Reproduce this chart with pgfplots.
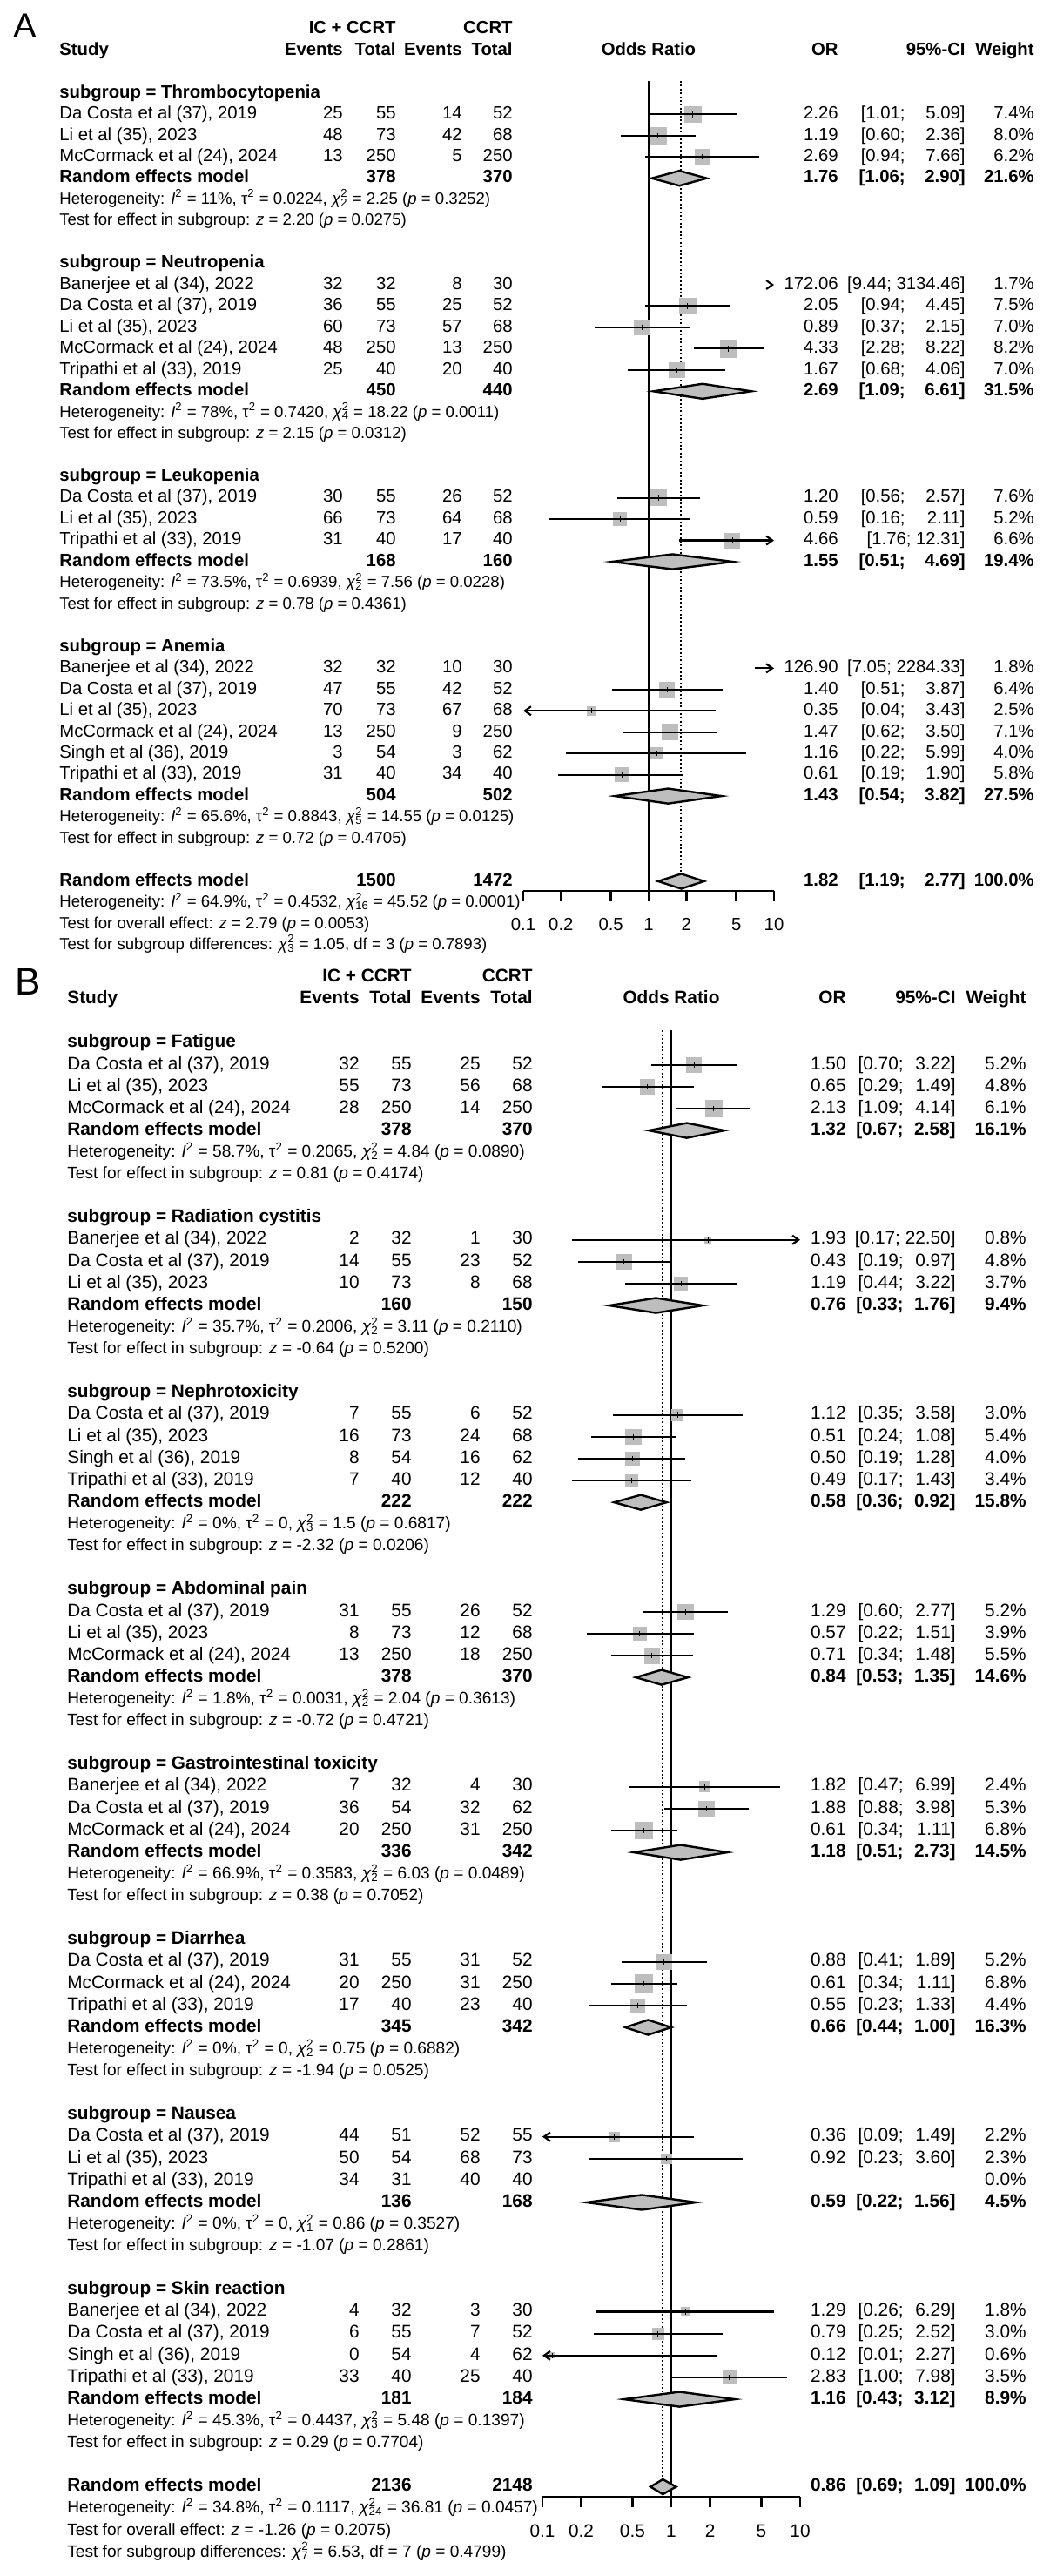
\documentclass[border=0pt]{standalone}
\usepackage{fontspec}
\setmainfont{Liberation Sans}
\usepackage{pgfplots}
\pgfplotsset{compat=1.18}
\usepackage{pgfplotstable}
\usetikzlibrary{arrows.meta}
\definecolor{boxgray}{HTML}{BEBEBE}

\newcommand\fA{\fontsize{10.15pt}{12pt}\selectfont}
\newcommand\fB{\fontsize{10.4pt}{12.5pt}\selectfont}
\newcommand\hA{\fontsize{9.3pt}{11pt}\selectfont}
\newcommand\hB{\fontsize{9.55pt}{11.5pt}\selectfont}

% text: x in reference pixels, y in rows of the forest axis
\newcommand\tL[3]{\node[anchor=mid west,inner sep=0pt,font=\fnt] at ([xshift={(#1-\xone)*0.5pt}]axis cs:1,#2) {#3};}
\newcommand\tR[3]{\node[anchor=mid east,inner sep=0pt,font=\fnt] at ([xshift={(#1-\xone)*0.5pt}]axis cs:1,#2) {#3};}
\newcommand\tC[3]{\node[anchor=mid,inner sep=0pt,font=\fnt] at ([xshift={(#1-\xone)*0.5pt}]axis cs:1,#2) {#3};}
% heterogeneity / test lines, smaller font
\newcommand\hs[2]{\node[anchor=mid west,inner sep=0pt,font=\fhet] at ([xshift={(\cN-\xone)*0.5pt}]axis cs:1,#1) {#2};}
\newcommand\st[6]{\tL{\cN}{#1}{#2}\tR{\cEa}{#1}{#3}\tR{\cTa}{#1}{#4}\tR{\cEb}{#1}{#5}\tR{\cTb}{#1}{#6}}
\newcommand\es[5]{\tR{\cOR}{#1}{#2}\tR{\cLo}{#1}{#3}\tR{\cHi}{#1}{#4}\tR{\cW}{#1}{#5}}
\newcommand\re[7]{\tL{\cN}{#1}{\textbf{Random effects model}}\tR{\cTa}{#1}{\textbf{#2}}\tR{\cTb}{#1}{\textbf{#3}}%
  \tR{\cOR}{#1}{\textbf{#4}}\tR{\cLo}{#1}{\textbf{#5}}\tR{\cHi}{#1}{\textbf{#6}}\tR{\cW}{#1}{\textbf{#7}}}
\newcommand\sg[2]{\tL{\cN}{#1}{\textbf{subgroup = #2}}}
\newcommand\hd{%
  \tR{\cTa}{-3}{\textbf{IC + CCRT}}\tR{\cTb}{-3}{\textbf{CCRT}}%
  \tL{\cN}{-2}{\textbf{Study}}\tR{\cEa}{-2}{\textbf{Events}}\tR{\cTa}{-2}{\textbf{Total}}%
  \tR{\cEb}{-2}{\textbf{Events}}\tR{\cTb}{-2}{\textbf{Total}}\tC{\xone}{-2}{\textbf{Odds Ratio}}%
  \tR{\cOR}{-2}{\textbf{OR}}\tR{\cHi}{-2}{\textbf{95\%-CI}}\tR{\cW}{-2}{\textbf{Weight}}}
\newcommand\Isq{\textit{I}\textsuperscript{2}}
\newcommand\tausq{τ\textsuperscript{2}}
\newcommand\chis[1]{\textit{χ}\rlap{\textsuperscript{2}}\textsubscript{#1}}
\newcommand\pp{\textit{p}}
\newcommand\zz{\textit{z}}

% forest pieces
\newcommand\ci[3]{\addplot[black, line width=1.1pt] coordinates {(#1,#3) (#2,#3)};}
\newcommand\ciar[3]{\addplot[black, line width=1.1pt,-{Straight Barb[length=3.5pt,width=5pt]}] coordinates {(#1,#3) (#2,#3)};}
\newcommand\dia[6]{\addplot[draw=black, fill=boxgray, line width=1.2pt] coordinates {(#1,#4) (#2,#5) (#3,#4) (#2,#6)} -- cycle;}

% squares: row, estimate, weight (%)
\pgfplotstableread{
r est w
1 2.26 7.4
2 1.19 8.0
3 2.69 6.2
10 2.05 7.5
11 0.89 7.0
12 4.33 8.2
13 1.67 7.0
19 1.20 7.6
20 0.59 5.2
21 4.66 6.6
28 1.40 6.4
29 0.35 2.5
30 1.47 7.1
31 1.16 4.0
32 0.61 5.8
}\sqA
\pgfplotstableread{
r est w
1 1.50 5.2
2 0.65 4.8
3 2.13 6.1
9 1.93 0.8
10 0.43 4.8
11 1.19 3.7
17 1.12 3.0
18 0.51 5.4
19 0.50 4.0
20 0.49 3.4
26 1.29 5.2
27 0.57 3.9
28 0.71 5.5
34 1.82 2.4
35 1.88 5.3
36 0.61 6.8
42 0.88 5.2
43 0.61 6.8
44 0.55 4.4
50 0.36 2.2
51 0.92 2.3
58 1.29 1.8
59 0.79 3.0
60 0.12 0.6
61 2.83 3.5
}\sqB

\begin{document}
\begin{tikzpicture}
\path[use as bounding box] (0,0) rectangle (602.5pt,-1479pt);

% ================= panel A
\def\xone{745}\let\fnt\fA\let\fhet\hA
\def\cN{68}\def\cEa{394}\def\cTa{455}\def\cEb{531}\def\cTb{589}
\def\cOR{963}\def\cLo{1040}\def\cHi{1109}\def\cW{1188}
\begin{axis}[scale only axis, xmode=log, xmin=0.1, xmax=10, y dir=reverse,
    axis x line*=bottom, axis y line=none,
    xtick={0.1,0.2,0.5,1,2,5,10}, xticklabels={0.1,0.2,0.5,1,2,5,10}, minor xtick={},
    tick align=outside, major tick length=6pt, tick style={black, line width=1.2pt},
    axis line style={line width=1.2pt}, clip mode=individual,
    xticklabel style={inner sep=0pt, anchor=north, yshift=-9.8pt, font=\fA},
    at={(300.5pt,-511.35pt)}, anchor=south west,
    width=144pt, height=464.9pt, ymin=-0.57, ymax=37.44]
\addplot[black, line width=1.2pt] coordinates {(1,-0.57) (1,37.44)};
\addplot[black, line width=1pt, dash pattern=on 1pt off 1.2pt] coordinates {(1.82,-0.57) (1.82,36.65)};
\addplot[scatter, only marks, mark=square*, point meta={\thisrow{w}},
  scatter/use mapped color={draw=boxgray, fill=boxgray},
  visualization depends on={\thisrow{w}\as\wt},
  scatter/@pre marker code/.append style={/tikz/mark size={1.675*sqrt(\wt)}}]
  table[x=est,y=r] {\sqA};
\ci{1.01}{5.09}{1} \ci{0.60}{2.36}{2} \ci{0.94}{7.66}{3}
\ciar{9.44}{10}{9} \ci{0.94}{4.45}{10} \ci{0.37}{2.15}{11} \ci{2.28}{8.22}{12} \ci{0.68}{4.06}{13}
\ci{0.56}{2.57}{19} \ci{0.16}{2.11}{20} \ciar{1.76}{10}{21}
\ciar{7.05}{10}{27} \ci{0.51}{3.87}{28} \ciar{3.43}{0.1}{29} \ci{0.62}{3.50}{30} \ci{0.22}{5.99}{31} \ci{0.19}{1.90}{32}
\addplot[only marks, mark=|, mark size=1.6pt, mark options={black, line width=0.5pt}] table[x=est,y=r] {\sqA};
\dia{1.06}{1.76}{2.90}{4}{3.65}{4.35}
\dia{1.09}{2.69}{6.61}{14}{13.65}{14.35}
\dia{0.51}{1.55}{4.69}{22}{21.65}{22.35}
\dia{0.54}{1.43}{3.82}{33}{32.65}{33.35}
\dia{1.19}{1.82}{2.77}{37}{36.65}{37.35}

\node[anchor=mid west,inner sep=0pt,font=\fontsize{20pt}{24pt}\selectfont] at ([xshift={(15-\xone)*0.5pt}]axis cs:1,-2.8) {A};
\hd
\sg{0}{Thrombocytopenia}
\st{1}{Da Costa et al (37), 2019}{25}{55}{14}{52}\es{1}{2.26}{[1.01;}{5.09]}{7.4\%}
\st{2}{Li et al (35), 2023}{48}{73}{42}{68}\es{2}{1.19}{[0.60;}{2.36]}{8.0\%}
\st{3}{McCormack et al (24), 2024}{13}{250}{5}{250}\es{3}{2.69}{[0.94;}{7.66]}{6.2\%}
\re{4}{378}{370}{1.76}{[1.06;}{2.90]}{21.6\%}
\hs{5}{Heterogeneity: \Isq{} = 11\%, \tausq{} = 0.0224, \chis{2} = 2.25 (\pp{} = 0.3252)}
\hs{6}{Test for effect in subgroup: \zz{} = 2.20 (\pp{} = 0.0275)}
\sg{8}{Neutropenia}
\st{9}{Banerjee et al (34), 2022}{32}{32}{8}{30}\es{9}{172.06}{}{[9.44; 3134.46]}{1.7\%}
\st{10}{Da Costa et al (37), 2019}{36}{55}{25}{52}\es{10}{2.05}{[0.94;}{4.45]}{7.5\%}
\st{11}{Li et al (35), 2023}{60}{73}{57}{68}\es{11}{0.89}{[0.37;}{2.15]}{7.0\%}
\st{12}{McCormack et al (24), 2024}{48}{250}{13}{250}\es{12}{4.33}{[2.28;}{8.22]}{8.2\%}
\st{13}{Tripathi et al (33), 2019}{25}{40}{20}{40}\es{13}{1.67}{[0.68;}{4.06]}{7.0\%}
\re{14}{450}{440}{2.69}{[1.09;}{6.61]}{31.5\%}
\hs{15}{Heterogeneity: \Isq{} = 78\%, \tausq{} = 0.7420, \chis{4} = 18.22 (\pp{} = 0.0011)}
\hs{16}{Test for effect in subgroup: \zz{} = 2.15 (\pp{} = 0.0312)}
\sg{18}{Leukopenia}
\st{19}{Da Costa et al (37), 2019}{30}{55}{26}{52}\es{19}{1.20}{[0.56;}{2.57]}{7.6\%}
\st{20}{Li et al (35), 2023}{66}{73}{64}{68}\es{20}{0.59}{[0.16;}{2.11]}{5.2\%}
\st{21}{Tripathi et al (33), 2019}{31}{40}{17}{40}\es{21}{4.66}{}{[1.76; 12.31]}{6.6\%}
\re{22}{168}{160}{1.55}{[0.51;}{4.69]}{19.4\%}
\hs{23}{Heterogeneity: \Isq{} = 73.5\%, \tausq{} = 0.6939, \chis{2} = 7.56 (\pp{} = 0.0228)}
\hs{24}{Test for effect in subgroup: \zz{} = 0.78 (\pp{} = 0.4361)}
\sg{26}{Anemia}
\st{27}{Banerjee et al (34), 2022}{32}{32}{10}{30}\es{27}{126.90}{}{[7.05; 2284.33]}{1.8\%}
\st{28}{Da Costa et al (37), 2019}{47}{55}{42}{52}\es{28}{1.40}{[0.51;}{3.87]}{6.4\%}
\st{29}{Li et al (35), 2023}{70}{73}{67}{68}\es{29}{0.35}{[0.04;}{3.43]}{2.5\%}
\st{30}{McCormack et al (24), 2024}{13}{250}{9}{250}\es{30}{1.47}{[0.62;}{3.50]}{7.1\%}
\st{31}{Singh et al (36), 2019}{3}{54}{3}{62}\es{31}{1.16}{[0.22;}{5.99]}{4.0\%}
\st{32}{Tripathi et al (33), 2019}{31}{40}{34}{40}\es{32}{0.61}{[0.19;}{1.90]}{5.8\%}
\re{33}{504}{502}{1.43}{[0.54;}{3.82]}{27.5\%}
\hs{34}{Heterogeneity: \Isq{} = 65.6\%, \tausq{} = 0.8843, \chis{5} = 14.55 (\pp{} = 0.0125)}
\hs{35}{Test for effect in subgroup: \zz{} = 0.72 (\pp{} = 0.4705)}
\re{37}{1500}{1472}{1.82}{[1.19;}{2.77]}{100.0\%}
\hs{38}{Heterogeneity: \Isq{} = 64.9\%, \tausq{} = 0.4532, \chis{16} = 45.52 (\pp{} = 0.0001)}
\hs{39}{Test for overall effect: \zz{} = 2.79 (\pp{} = 0.0053)}
\hs{40}{Test for subgroup differences: \chis{3} = 1.05, df = 3 (\pp{} = 0.7893)}
\end{axis}

% ================= panel B
\def\xone{771}\let\fnt\fB\let\fhet\hB
\def\cN{77}\def\cEa{413}\def\cTa{473}\def\cEb{552}\def\cTb{612}
\def\cOR{972}\def\cLo{1038}\def\cHi{1098}\def\cW{1179}
\begin{axis}[scale only axis, xmode=log, xmin=0.1, xmax=10, y dir=reverse,
    axis x line*=bottom, axis y line=none,
    xtick={0.1,0.2,0.5,1,2,5,10}, xticklabels={0.1,0.2,0.5,1,2,5,10}, minor xtick={},
    tick align=outside, major tick length=6pt, tick style={black, line width=1.2pt},
    axis line style={line width=1.2pt}, clip mode=individual,
    xticklabel style={inner sep=0pt, anchor=north, yshift=-9.8pt, font=\fB},
    at={(311.5pt,-1433.65pt)}, anchor=south west,
    width=148pt, height=841.95pt, ymin=-0.565, ymax=66.47]
\addplot[black, line width=1.2pt] coordinates {(1,-0.565) (1,66.47)};
\addplot[black, line width=1pt, dash pattern=on 1pt off 1.2pt] coordinates {(0.86,-0.565) (0.86,65.66)};
\addplot[scatter, only marks, mark=square*, point meta={\thisrow{w}},
  scatter/use mapped color={draw=boxgray, fill=boxgray},
  visualization depends on={\thisrow{w}\as\wt},
  scatter/@pre marker code/.append style={/tikz/mark size={1.9*sqrt(\wt)}}]
  table[x=est,y=r] {\sqB};
\ci{0.70}{3.22}{1} \ci{0.29}{1.49}{2} \ci{1.09}{4.14}{3}
\ciar{0.17}{10}{9} \ci{0.19}{0.97}{10} \ci{0.44}{3.22}{11}
\ci{0.35}{3.58}{17} \ci{0.24}{1.08}{18} \ci{0.19}{1.28}{19} \ci{0.17}{1.43}{20}
\ci{0.60}{2.77}{26} \ci{0.22}{1.51}{27} \ci{0.34}{1.48}{28}
\ci{0.47}{6.99}{34} \ci{0.88}{3.98}{35} \ci{0.34}{1.11}{36}
\ci{0.41}{1.89}{42} \ci{0.34}{1.11}{43} \ci{0.23}{1.33}{44}
\ciar{1.49}{0.1}{50} \ci{0.23}{3.60}{51}
\ci{0.26}{6.29}{58} \ci{0.25}{2.52}{59} \ciar{2.27}{0.1}{60} \ci{1.00}{7.98}{61}
\addplot[only marks, mark=|, mark size=1.6pt, mark options={black, line width=0.5pt}] table[x=est,y=r] {\sqB};
\dia{0.67}{1.32}{2.58}{4}{3.66}{4.34}
\dia{0.33}{0.76}{1.76}{12}{11.66}{12.34}
\dia{0.36}{0.58}{0.92}{21}{20.66}{21.34}
\dia{0.53}{0.84}{1.35}{29}{28.66}{29.34}
\dia{0.51}{1.18}{2.73}{37}{36.66}{37.34}
\dia{0.44}{0.66}{1.00}{45}{44.66}{45.34}
\dia{0.22}{0.59}{1.56}{53}{52.66}{53.34}
\dia{0.43}{1.16}{3.12}{62}{61.66}{62.34}
\dia{0.69}{0.86}{1.09}{66}{65.66}{66.34}

\node[anchor=mid west,inner sep=0pt,font=\fontsize{22pt}{26pt}\selectfont] at ([xshift={(17-\xone)*0.5pt}]axis cs:1,-2.41) {B};
\hd
\sg{0}{Fatigue}
\st{1}{Da Costa et al (37), 2019}{32}{55}{25}{52}\es{1}{1.50}{[0.70;}{3.22]}{5.2\%}
\st{2}{Li et al (35), 2023}{55}{73}{56}{68}\es{2}{0.65}{[0.29;}{1.49]}{4.8\%}
\st{3}{McCormack et al (24), 2024}{28}{250}{14}{250}\es{3}{2.13}{[1.09;}{4.14]}{6.1\%}
\re{4}{378}{370}{1.32}{[0.67;}{2.58]}{16.1\%}
\hs{5}{Heterogeneity: \Isq{} = 58.7\%, \tausq{} = 0.2065, \chis{2} = 4.84 (\pp{} = 0.0890)}
\hs{6}{Test for effect in subgroup: \zz{} = 0.81 (\pp{} = 0.4174)}
\sg{8}{Radiation cystitis}
\st{9}{Banerjee et al (34), 2022}{2}{32}{1}{30}\es{9}{1.93}{}{[0.17; 22.50]}{0.8\%}
\st{10}{Da Costa et al (37), 2019}{14}{55}{23}{52}\es{10}{0.43}{[0.19;}{0.97]}{4.8\%}
\st{11}{Li et al (35), 2023}{10}{73}{8}{68}\es{11}{1.19}{[0.44;}{3.22]}{3.7\%}
\re{12}{160}{150}{0.76}{[0.33;}{1.76]}{9.4\%}
\hs{13}{Heterogeneity: \Isq{} = 35.7\%, \tausq{} = 0.2006, \chis{2} = 3.11 (\pp{} = 0.2110)}
\hs{14}{Test for effect in subgroup: \zz{} = -0.64 (\pp{} = 0.5200)}
\sg{16}{Nephrotoxicity}
\st{17}{Da Costa et al (37), 2019}{7}{55}{6}{52}\es{17}{1.12}{[0.35;}{3.58]}{3.0\%}
\st{18}{Li et al (35), 2023}{16}{73}{24}{68}\es{18}{0.51}{[0.24;}{1.08]}{5.4\%}
\st{19}{Singh et al (36), 2019}{8}{54}{16}{62}\es{19}{0.50}{[0.19;}{1.28]}{4.0\%}
\st{20}{Tripathi et al (33), 2019}{7}{40}{12}{40}\es{20}{0.49}{[0.17;}{1.43]}{3.4\%}
\re{21}{222}{222}{0.58}{[0.36;}{0.92]}{15.8\%}
\hs{22}{Heterogeneity: \Isq{} = 0\%, \tausq{} = 0, \chis{3} = 1.5 (\pp{} = 0.6817)}
\hs{23}{Test for effect in subgroup: \zz{} = -2.32 (\pp{} = 0.0206)}
\sg{25}{Abdominal pain}
\st{26}{Da Costa et al (37), 2019}{31}{55}{26}{52}\es{26}{1.29}{[0.60;}{2.77]}{5.2\%}
\st{27}{Li et al (35), 2023}{8}{73}{12}{68}\es{27}{0.57}{[0.22;}{1.51]}{3.9\%}
\st{28}{McCormack et al (24), 2024}{13}{250}{18}{250}\es{28}{0.71}{[0.34;}{1.48]}{5.5\%}
\re{29}{378}{370}{0.84}{[0.53;}{1.35]}{14.6\%}
\hs{30}{Heterogeneity: \Isq{} = 1.8\%, \tausq{} = 0.0031, \chis{2} = 2.04 (\pp{} = 0.3613)}
\hs{31}{Test for effect in subgroup: \zz{} = -0.72 (\pp{} = 0.4721)}
\sg{33}{Gastrointestinal toxicity}
\st{34}{Banerjee et al (34), 2022}{7}{32}{4}{30}\es{34}{1.82}{[0.47;}{6.99]}{2.4\%}
\st{35}{Da Costa et al (37), 2019}{36}{54}{32}{62}\es{35}{1.88}{[0.88;}{3.98]}{5.3\%}
\st{36}{McCormack et al (24), 2024}{20}{250}{31}{250}\es{36}{0.61}{[0.34;}{1.11]}{6.8\%}
\re{37}{336}{342}{1.18}{[0.51;}{2.73]}{14.5\%}
\hs{38}{Heterogeneity: \Isq{} = 66.9\%, \tausq{} = 0.3583, \chis{2} = 6.03 (\pp{} = 0.0489)}
\hs{39}{Test for effect in subgroup: \zz{} = 0.38 (\pp{} = 0.7052)}
\sg{41}{Diarrhea}
\st{42}{Da Costa et al (37), 2019}{31}{55}{31}{52}\es{42}{0.88}{[0.41;}{1.89]}{5.2\%}
\st{43}{McCormack et al (24), 2024}{20}{250}{31}{250}\es{43}{0.61}{[0.34;}{1.11]}{6.8\%}
\st{44}{Tripathi et al (33), 2019}{17}{40}{23}{40}\es{44}{0.55}{[0.23;}{1.33]}{4.4\%}
\re{45}{345}{342}{0.66}{[0.44;}{1.00]}{16.3\%}
\hs{46}{Heterogeneity: \Isq{} = 0\%, \tausq{} = 0, \chis{2} = 0.75 (\pp{} = 0.6882)}
\hs{47}{Test for effect in subgroup: \zz{} = -1.94 (\pp{} = 0.0525)}
\sg{49}{Nausea}
\st{50}{Da Costa et al (37), 2019}{44}{51}{52}{55}\es{50}{0.36}{[0.09;}{1.49]}{2.2\%}
\st{51}{Li et al (35), 2023}{50}{54}{68}{73}\es{51}{0.92}{[0.23;}{3.60]}{2.3\%}
\st{52}{Tripathi et al (33), 2019}{34}{31}{40}{40}\tR{\cW}{52}{0.0\%}
\re{53}{136}{168}{0.59}{[0.22;}{1.56]}{4.5\%}
\hs{54}{Heterogeneity: \Isq{} = 0\%, \tausq{} = 0, \chis{1} = 0.86 (\pp{} = 0.3527)}
\hs{55}{Test for effect in subgroup: \zz{} = -1.07 (\pp{} = 0.2861)}
\sg{57}{Skin reaction}
\st{58}{Banerjee et al (34), 2022}{4}{32}{3}{30}\es{58}{1.29}{[0.26;}{6.29]}{1.8\%}
\st{59}{Da Costa et al (37), 2019}{6}{55}{7}{52}\es{59}{0.79}{[0.25;}{2.52]}{3.0\%}
\st{60}{Singh et al (36), 2019}{0}{54}{4}{62}\es{60}{0.12}{[0.01;}{2.27]}{0.6\%}
\st{61}{Tripathi et al (33), 2019}{33}{40}{25}{40}\es{61}{2.83}{[1.00;}{7.98]}{3.5\%}
\re{62}{181}{184}{1.16}{[0.43;}{3.12]}{8.9\%}
\hs{63}{Heterogeneity: \Isq{} = 45.3\%, \tausq{} = 0.4437, \chis{3} = 5.48 (\pp{} = 0.1397)}
\hs{64}{Test for effect in subgroup: \zz{} = 0.29 (\pp{} = 0.7704)}
\re{66}{2136}{2148}{0.86}{[0.69;}{1.09]}{100.0\%}
\hs{67}{Heterogeneity: \Isq{} = 34.8\%, \tausq{} = 0.1117, \chis{24} = 36.81 (\pp{} = 0.0457)}
\hs{68}{Test for overall effect: \zz{} = -1.26 (\pp{} = 0.2075)}
\hs{69}{Test for subgroup differences: \chis{7} = 6.53, df = 7 (\pp{} = 0.4799)}
\end{axis}
\end{tikzpicture}
\end{document}
